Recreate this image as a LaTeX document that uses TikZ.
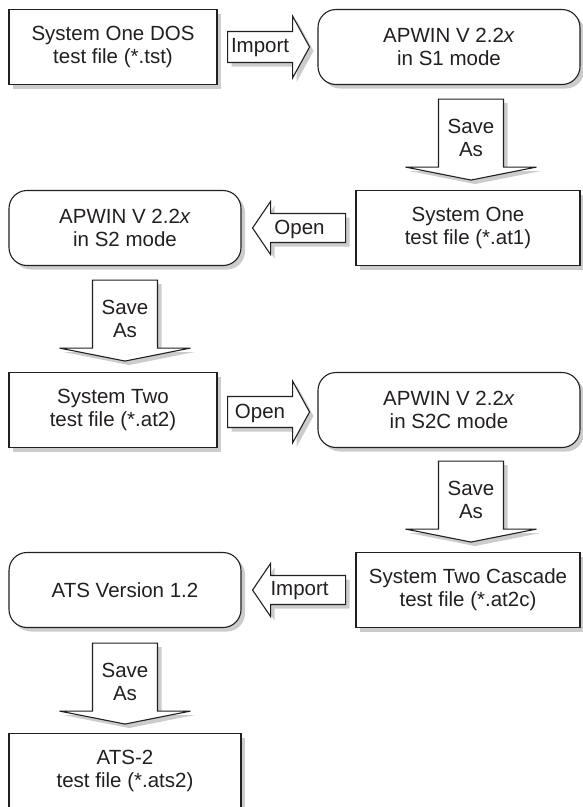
\documentclass[tikz,border=0pt]{standalone}
\usepackage{fontspec}
\setmainfont{Liberation Sans}
\usetikzlibrary{calc}
\definecolor{shadowgray}{gray}{0.8}
\definecolor{inkc}{HTML}{231F20}
\newcommand\diaglbl{\fontsize{20.5}{23}\selectfont}
\begin{document}
\begin{tikzpicture}[x=1pt,y=-1pt,
  shadowed/.style={preaction={fill=shadowgray, draw=none, transform canvas={xshift=4pt,yshift=-4pt}}},
  box/.style={shadowed, draw=inkc, line width=1.1pt, fill=white, inner sep=0pt,
    minimum height=75pt, align=center, font=\diaglbl, text=inkc},
  narrowbox/.style={box, minimum width=208pt},
  widebox/.style={box, minimum width=262pt},
  leftbox/.style={box, minimum width=232pt},
  rightbox/.style={box, minimum width=224pt},
  roundbox/.style={rounded corners=18pt},
  blockarrow/.style={shadowed, draw=inkc, line width=1.1pt, fill=white, line join=miter},
  arrowlabel/.style={inner sep=0pt, align=center, font=\diaglbl, text=inkc}]
\useasboundingbox (0,0) rectangle (583,807);
\clip (0,0) rectangle (583,807);

% boxes
\node[narrowbox] (A) at (113,47) {System One DOS\\test file (*.tst)};
\node[widebox, roundbox] (B) at (449,47) {APWIN V 2.2\textit{x}\\in S1 mode};
\node[rightbox] (D) at (468,228) {System One\\test file (*.at1)};
\node[leftbox, roundbox] (C) at (125,228) {APWIN V 2.2\textit{x}\\in S2 mode};
\node[narrowbox] (E) at (113,410) {System Two\\test file (*.at2)};
\node[widebox, roundbox] (F) at (449,410) {APWIN V 2.2\textit{x}\\in S2C mode};
\node[rightbox] (H) at (468,590) {System Two Cascade\\test file (*.at2c)};
\node[leftbox, roundbox] (G) at (125,590) {ATS Version 1.2};
\node[leftbox] (I) at (125,771) {ATS-2\\test file (*.ats2)};

% right-pointing block arrows
\coordinate (r1) at ($(A.east)+(10,0)$);
\draw[blockarrow] (r1) ++(0,-15.5) -- ++(65,0) -- ++(0,-15.5) -- ++(17,31)
  -- ++(-17,31) -- ++(0,-15.5) -- ++(-65,0) -- cycle;
\node[arrowlabel] (t1) at ($(r1)+(32.5,1)$) {Import};

\coordinate (r3) at ($(E.east)+(10,2)$);
\draw[blockarrow] (r3) ++(0,-15.5) -- ++(65,0) -- ++(0,-15.5) -- ++(17,31)
  -- ++(-17,31) -- ++(0,-15.5) -- ++(-65,0) -- cycle;
\node[arrowlabel] (t3) at ($(r3)+(32.5,1)$) {Open};

% left-pointing block arrows
\coordinate (l2) at ($(C.east)+(11,0)$);
\draw[blockarrow] (l2) -- ++(18,-26.5) -- ++(0,12) -- ++(75,0) -- ++(0,29)
  -- ++(-75,0) -- ++(0,12) -- cycle;
\node[arrowlabel] (t2) at ($(l2)+(47,1)$) {Open};

\coordinate (l4) at ($(G.east)+(11,0)$);
\draw[blockarrow] (l4) -- ++(18,-26.5) -- ++(0,12) -- ++(75,0) -- ++(0,29)
  -- ++(-75,0) -- ++(0,12) -- cycle;
\node[arrowlabel] (t4) at ($(l4)+(47,1)$) {Import};

% downward block arrows
\coordinate (d1) at ($(B.south)+(22,14)$);
\coordinate (d2) at ($(C.south)+(0,14)$);
\coordinate (d3) at ($(F.south)+(22,13)$);
\coordinate (d4) at ($(G.south)+(0,15)$);
\foreach \d in {d1,d2,d3,d4}{
  \draw[blockarrow] (\d) ++(-32.5,0) -- ++(65,0) -- ++(0,68) -- ++(33,0)
    -- ++(-65.5,13) -- ++(-65.5,-13) -- ++(33,0) -- cycle;
  \node[arrowlabel] (s\d) at ($(\d)+(0,39)$) {Save\\As};
}
\end{tikzpicture}
\end{document}
